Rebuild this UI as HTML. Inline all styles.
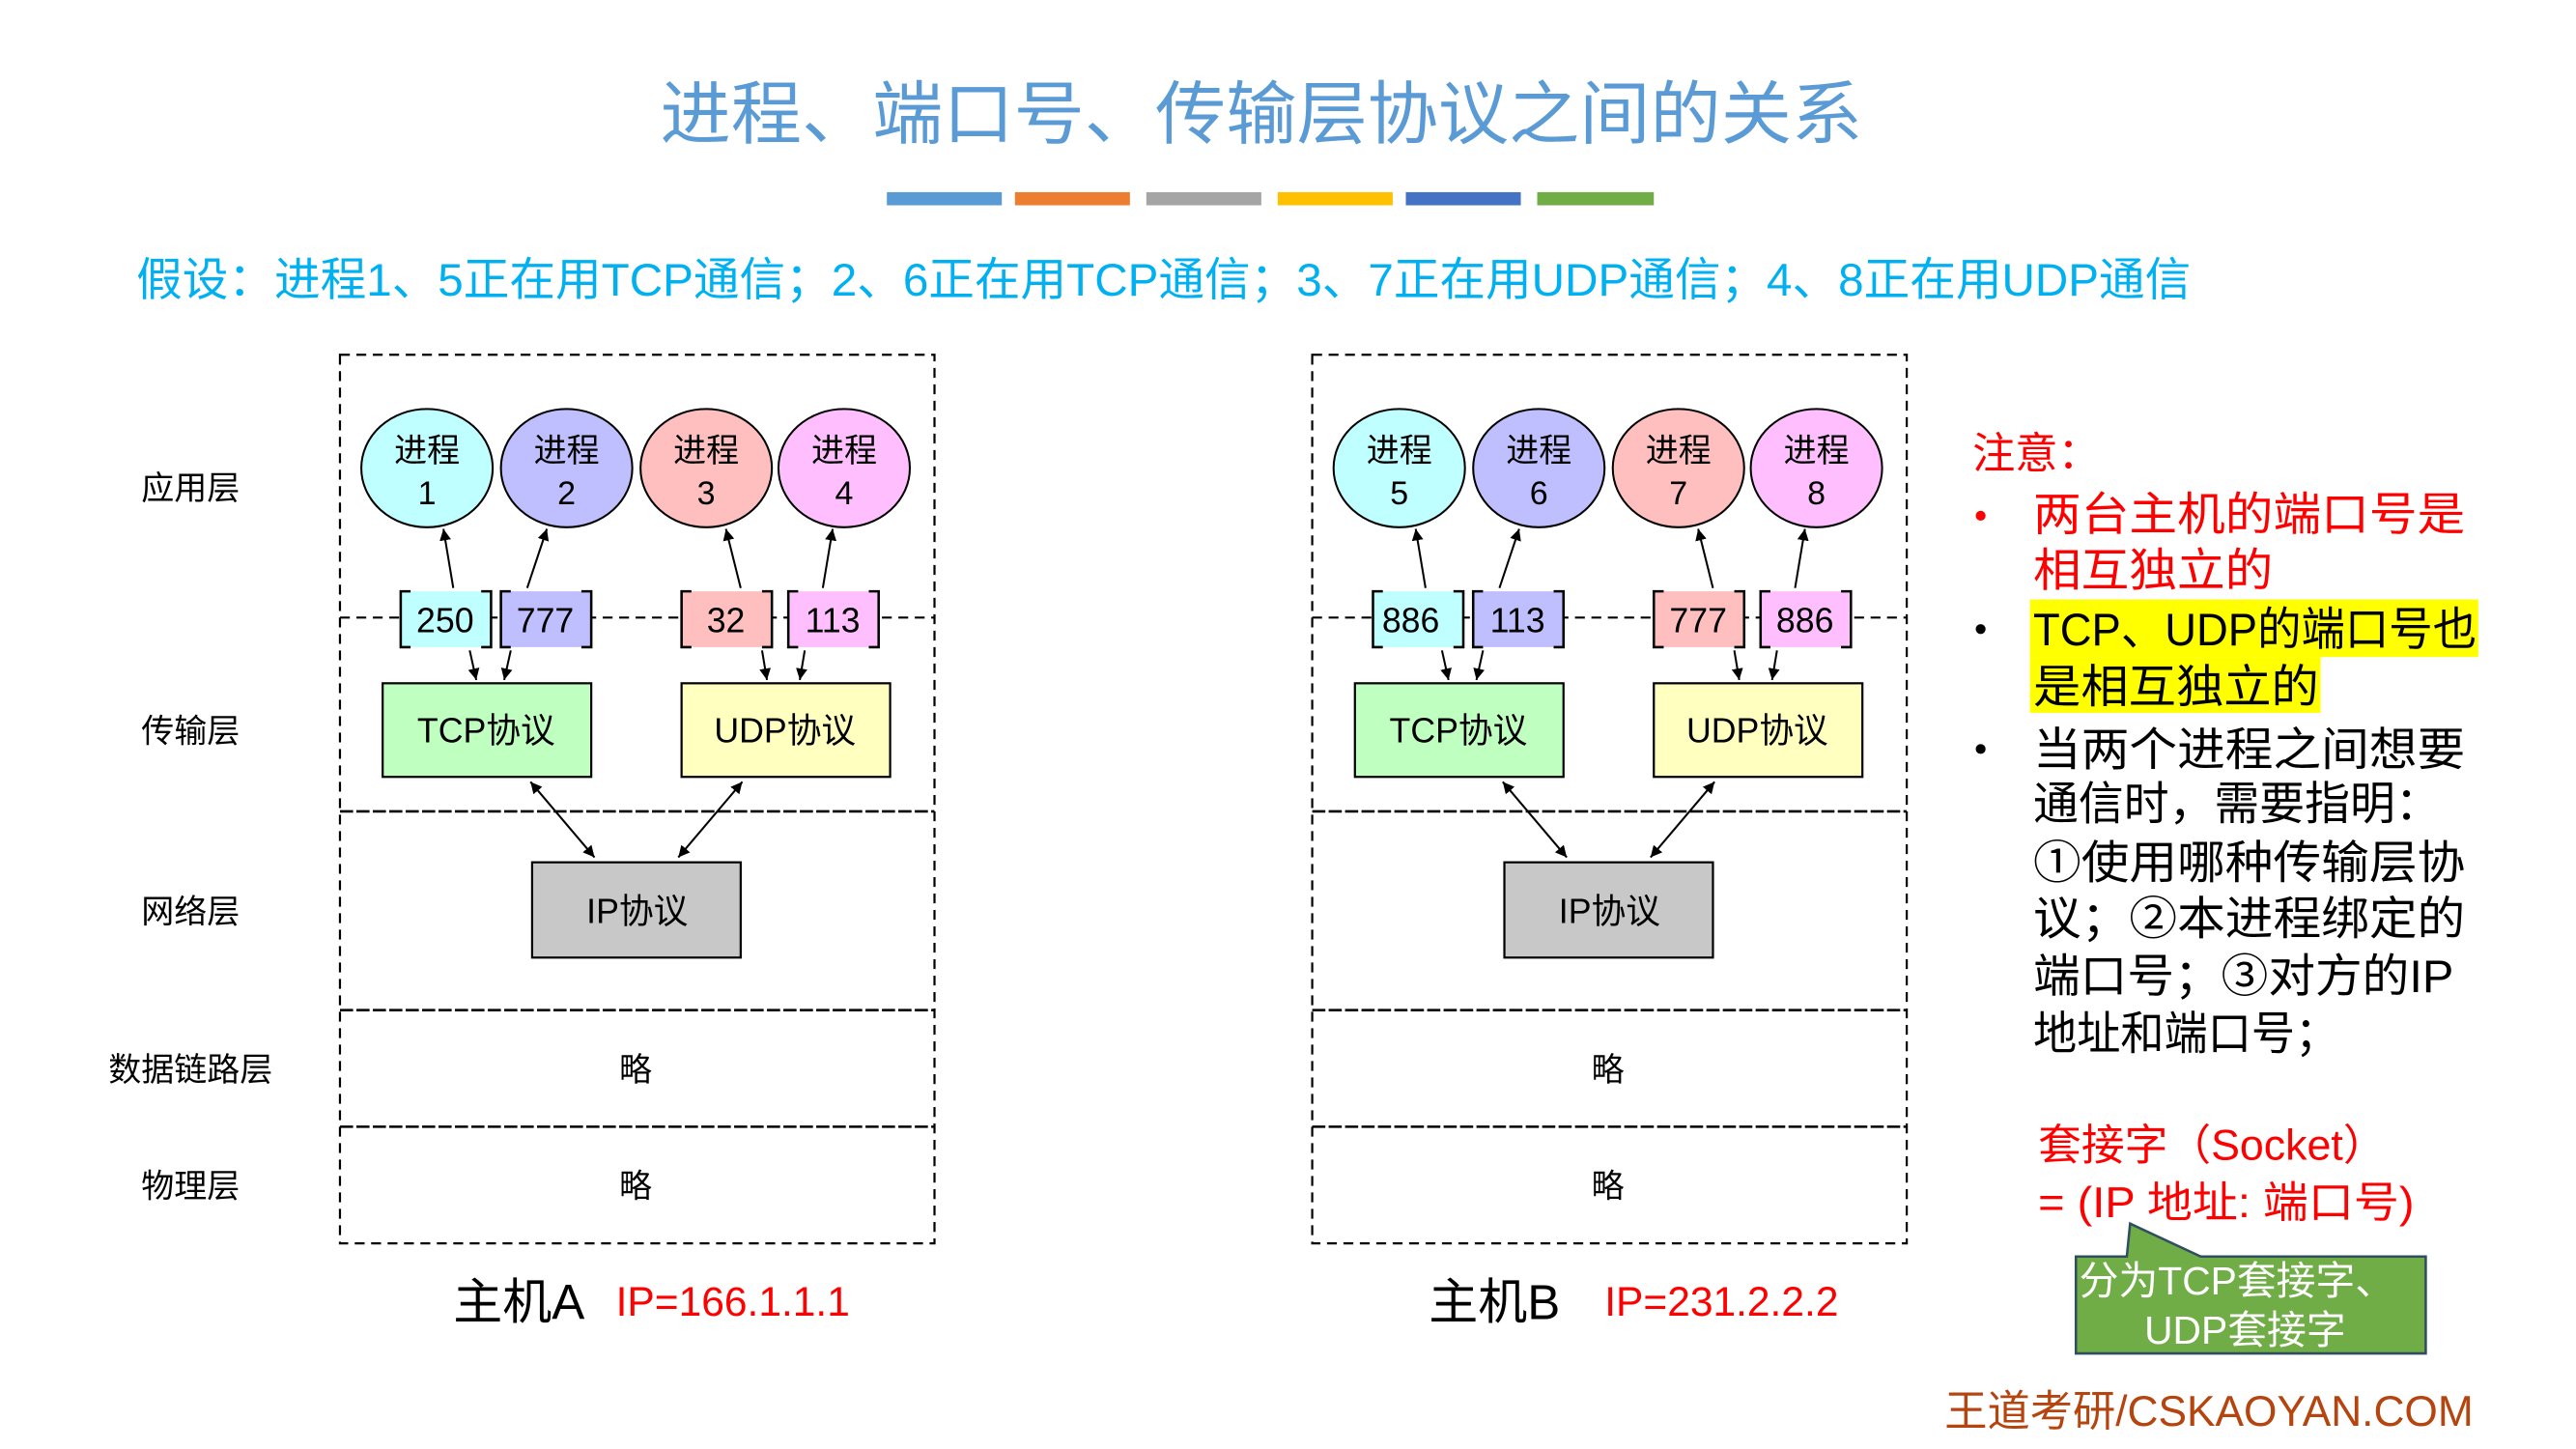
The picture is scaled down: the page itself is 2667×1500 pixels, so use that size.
<!DOCTYPE html>
<html><head><meta charset="utf-8"><style>
html,body{margin:0;padding:0;background:#fff;}
svg{display:block;}
text{font-family:"Liberation Sans","Noto Sans CJK SC",sans-serif;}
</style></head><body>
<svg width="2667" height="1500" viewBox="0 0 1568.5 882.2" preserveAspectRatio="none" xmlns="http://www.w3.org/2000/svg">
<defs>
<marker id="ah" viewBox="0 0 10 10" refX="10" refY="5" markerWidth="7" markerHeight="7" orient="auto-start-reverse" markerUnits="userSpaceOnUse"><path d="M0,0 L10,5 L0,10 z" fill="#000"/></marker>
<g id="host">
<rect x="207" y="216" width="362" height="541" fill="none" stroke="#000" stroke-width="1.3" stroke-dasharray="6,4"/>
<line x1="207" y1="376" x2="569" y2="376" stroke="#000" stroke-width="1.3" stroke-dasharray="6,4"/>
<line x1="207" y1="494" x2="569" y2="494" stroke="#000" stroke-width="1.5" stroke-dasharray="8,2"/>
<line x1="207" y1="615" x2="569" y2="615" stroke="#000" stroke-width="1.5" stroke-dasharray="8,2"/>
<line x1="207" y1="686" x2="569" y2="686" stroke="#000" stroke-width="1.5" stroke-dasharray="8,2"/>
<ellipse cx="260" cy="285" rx="40" ry="36" fill="#bfffff" stroke="#000" stroke-width="1.2"/>
<ellipse cx="345" cy="285" rx="40" ry="36" fill="#bfbfff" stroke="#000" stroke-width="1.2"/>
<ellipse cx="430" cy="285" rx="40" ry="36" fill="#ffbfbf" stroke="#000" stroke-width="1.2"/>
<ellipse cx="514" cy="285" rx="40" ry="36" fill="#ffbfff" stroke="#000" stroke-width="1.2"/>
<g font-size="20" text-anchor="middle" fill="#000">
<text x="260" y="281">进程</text>
<text x="345" y="281">进程</text>
<text x="430" y="281">进程</text>
<text x="514" y="281">进程</text>
</g>
<rect x="244" y="360" width="55" height="34" fill="#bfffff"/>
<rect x="305" y="360" width="55" height="34" fill="#bfbfff"/>
<rect x="415" y="360" width="55" height="34" fill="#ffbfbf"/>
<rect x="480" y="360" width="55" height="34" fill="#ffbfff"/>
<g fill="none" stroke="#000" stroke-width="1.5">
<path d="M250,360 H244 V394 H250 M293,360 H299 V394 H293"/>
<path d="M311,360 H305 V394 H311 M354,360 H360 V394 H354"/>
<path d="M421,360 H415 V394 H421 M464,360 H470 V394 H464"/>
<path d="M486,360 H480 V394 H486 M529,360 H535 V394 H529"/>
</g>
<rect x="233" y="416" width="127" height="57" fill="#bfffbf" stroke="#000" stroke-width="1.3"/>
<rect x="415" y="416" width="127" height="57" fill="#ffffbf" stroke="#000" stroke-width="1.3"/>
<rect x="324" y="525" width="127" height="58" fill="#c8c8c8" stroke="#000" stroke-width="1.3"/>
<g stroke="#000" stroke-width="1.2" marker-end="url(#ah)">
<line x1="276" y1="358" x2="270" y2="322"/>
<line x1="321" y1="358" x2="333" y2="322"/>
<line x1="451" y1="358" x2="442" y2="322"/>
<line x1="501" y1="358" x2="507" y2="322"/>
<line x1="286" y1="396" x2="290" y2="414"/>
<line x1="311" y1="396" x2="307" y2="414"/>
<line x1="464" y1="396" x2="467" y2="414"/>
<line x1="490" y1="396" x2="487" y2="414"/>
<line x1="323" y1="476" x2="362" y2="522" marker-start="url(#ah)"/>
<line x1="452" y1="476" x2="413" y2="522" marker-start="url(#ah)"/>
</g>
<g font-size="21" text-anchor="middle">
<text x="296" y="452">TCP协议</text>
<text x="478" y="452">UDP协议</text>
<text x="388" y="562">IP协议</text>
</g>
<g font-size="20" text-anchor="middle">
<text x="387" y="658">略</text>
<text x="387" y="729">略</text>
</g>
</g>
</defs>

<text x="768" y="84" font-size="42" fill="#5b9bd5" text-anchor="middle" textLength="732" lengthAdjust="spacingAndGlyphs">进程、端口号、传输层协议之间的关系</text>
<rect x="540" y="117" width="70" height="8" fill="#5b9bd5"/>
<rect x="618" y="117" width="70" height="8" fill="#ed7d31"/>
<rect x="698" y="117" width="70" height="8" fill="#a5a5a5"/>
<rect x="778" y="117" width="70" height="8" fill="#ffc000"/>
<rect x="856" y="117" width="70" height="8" fill="#4472c4"/>
<rect x="936" y="117" width="71" height="8" fill="#70ad47"/>

<text x="83" y="180" font-size="28" fill="#00b0f0" textLength="1251" lengthAdjust="spacingAndGlyphs">假设：进程1、5正在用TCP通信；2、6正在用TCP通信；3、7正在用UDP通信；4、8正在用UDP通信</text>

<g font-size="20" text-anchor="middle" fill="#000">
<text x="116" y="304">应用层</text>
<text x="116" y="452">传输层</text>
<text x="116" y="562">网络层</text>
<text x="116" y="658">数据链路层</text>
<text x="116" y="729">物理层</text>
</g>

<use href="#host"/>
<g transform="translate(592,0)"><use href="#host"/></g>

<g font-size="20" text-anchor="middle">
<text x="260" y="307">1</text><text x="345" y="307">2</text><text x="430" y="307">3</text><text x="514" y="307">4</text>
<text x="852" y="307">5</text><text x="937" y="307">6</text><text x="1022" y="307">7</text><text x="1106" y="307">8</text>
</g>

<g font-size="21" text-anchor="middle">
<text x="271" y="385">250</text><text x="332" y="385">777</text><text x="442" y="385">32</text><text x="507" y="385">113</text>
<text x="859" y="385">886</text><text x="924" y="385">113</text><text x="1034" y="385">777</text><text x="1099" y="385">886</text>
</g>

<text x="276" y="803" font-size="30">主机A</text>
<text x="375" y="801" font-size="25" fill="#ff0000">IP=166.1.1.1</text>
<text x="870" y="803" font-size="30">主机B</text>
<text x="977" y="801" font-size="25" fill="#ff0000">IP=231.2.2.2</text>

<text x="1201" y="285" font-size="26" fill="#ff0000">注意：</text>
<circle cx="1206" cy="314" r="3" fill="#ff0000"/>
<g font-size="28" fill="#ff0000">
<text x="1238" y="323" textLength="263" lengthAdjust="spacingAndGlyphs">两台主机的端口号是</text>
<text x="1238" y="357" textLength="146" lengthAdjust="spacingAndGlyphs">相互独立的</text>
</g>
<rect x="1236" y="365" width="273" height="35" fill="#ffff00"/>
<rect x="1236" y="400" width="177" height="34" fill="#ffff00"/>
<circle cx="1206" cy="383" r="3" fill="#000"/>
<circle cx="1206" cy="456" r="3" fill="#000"/>
<g font-size="28" fill="#000" lengthAdjust="spacingAndGlyphs">
<text x="1238" y="393" textLength="270" lengthAdjust="spacingAndGlyphs">TCP、UDP的端口号也</text>
<text x="1238" y="428" textLength="174" lengthAdjust="spacingAndGlyphs">是相互独立的</text>
<text x="1238" y="466" textLength="263" lengthAdjust="spacingAndGlyphs">当两个进程之间想要</text>
<text x="1238" y="499" textLength="248" lengthAdjust="spacingAndGlyphs">通信时，需要指明：</text>
<text x="1238" y="535" textLength="263" lengthAdjust="spacingAndGlyphs">①使用哪种传输层协</text>
<text x="1238" y="569" textLength="263" lengthAdjust="spacingAndGlyphs">议；②本进程绑定的</text>
<text x="1238" y="604" textLength="256" lengthAdjust="spacingAndGlyphs">端口号；③对方的IP</text>
<text x="1238" y="639" textLength="186" lengthAdjust="spacingAndGlyphs">地址和端口号；</text>
</g>
<g font-size="26" fill="#ff0000">
<text x="1241" y="706" textLength="212" lengthAdjust="spacingAndGlyphs">套接字（Socket）</text>
<text x="1241" y="741" textLength="229" lengthAdjust="spacingAndGlyphs">= (IP 地址: 端口号)</text>
</g>
<path d="M1264,765 H1295 L1297,745 L1340,765 H1477 V824 H1264 Z" fill="#70ad47" stroke="#2f4f5f" stroke-width="1.5"/>
<g font-size="24" fill="#fff" text-anchor="middle">
<text x="1362" y="788">分为TCP套接字、</text>
<text x="1367" y="818">UDP套接字</text>
</g>
<text x="1184" y="868" font-size="26" fill="#b5440e" textLength="322" lengthAdjust="spacingAndGlyphs">王道考研/CSKAOYAN.COM</text>
</svg>
</body></html>
